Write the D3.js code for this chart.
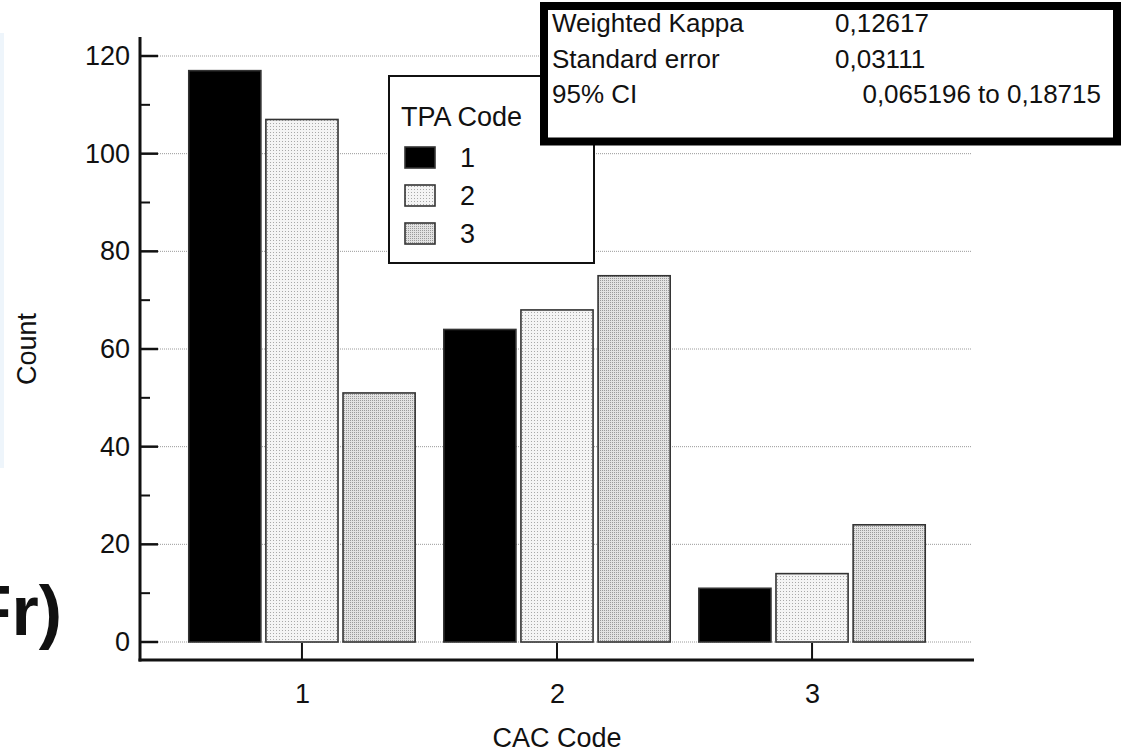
<!DOCTYPE html>
<html>
<head>
<meta charset="utf-8">
<script src="https://cdn.jsdelivr.net/npm/d3@7"></script>
<style>
html,body{margin:0;padding:0;background:#fff;}
svg{display:block;font-family:"Liberation Sans",Arial,sans-serif;}
</style>
</head>
<body>
<svg id="chart" width="1122" height="752"></svg>
<script>
// ---- data ----
const categories = [1, 2, 3];              // CAC Code
const seriesNames = ["1", "2", "3"];       // TPA Code
const tpa1 = [117, 64, 11];
const tpa2 = [107, 68, 14];
const tpa3 = [51, 75, 24];
const yTicks = [0, 20, 40, 60, 80, 100, 120];
const yMinorTicks = [10, 30, 50, 70, 90, 110];
const statLabels = ["Weighted Kappa", "Standard error", "95% CI"];
const statValues = ["0,12617", "0,03111", "0,065196 to 0,18715"];

const series = [tpa1, tpa2, tpa3];

const svg = d3.select("#chart");

// patterns
const defs = svg.append("defs");
const p2 = defs.append("pattern").attr("id","pat2").attr("patternUnits","userSpaceOnUse")
  .attr("width",3).attr("height",3);
p2.append("rect").attr("width",3).attr("height",3).attr("fill","#f4f4f4");
p2.append("rect").attr("x",0).attr("y",0).attr("width",1).attr("height",1).attr("fill","#a8a8a8");
const p3 = defs.append("pattern").attr("id","pat3").attr("patternUnits","userSpaceOnUse")
  .attr("width",2).attr("height",2);
p3.append("rect").attr("width",2).attr("height",2).attr("fill","#e2e2e2");
p3.append("rect").attr("x",0).attr("y",0).attr("width",1).attr("height",1).attr("fill","#9a9a9a");
const fills = ["#000", "url(#pat2)", "url(#pat3)"];

// faint left strip (background residue)
svg.append("rect").attr("x",0).attr("y",33).attr("width",4).attr("height",435).attr("fill","#eef5fb");

// partial bold text at left
svg.append("text").attr("x",62).attr("y",635).attr("text-anchor","end")
  .attr("font-size",70).attr("font-weight","bold").attr("fill","#111").text("Fr)");

// scales
const axisLeftX = 140, axisBottomY = 660;
const x = d3.scalePoint().domain(categories).range([140, 974]).padding(0.635);
const inner = d3.scaleBand().domain(d3.range(series.length)).range([-115.5, 115.5]).paddingInner(0.065).paddingOuter(0.03);
const y = d3.scaleLinear().domain([0, 120]).range([642, 56]);

// gridlines
svg.append("g").selectAll("line").data(yTicks).join("line")
  .attr("x1", 158).attr("x2", 972)
  .attr("y1", d => y(d)).attr("y2", d => y(d))
  .attr("stroke", "#9a9a9a").attr("stroke-width", 1).attr("stroke-dasharray", "1,1");

// bars
const barG = svg.append("g");
series.forEach((vals, si) => {
  barG.append("g").selectAll("rect").data(vals).join("rect")
    .attr("x", (d, i) => x(categories[i]) + inner(si))
    .attr("width", inner.bandwidth())
    .attr("y", d => y(d))
    .attr("height", d => y(0) - y(d))
    .attr("fill", fills[si])
    .attr("stroke", "#333").attr("stroke-width", 1.6);
});

// y axis
const yAxis = d3.axisLeft(y).tickValues(yTicks).tickSize(0).tickPadding(10);
const yg = svg.append("g").attr("transform", `translate(${axisLeftX},0)`).call(yAxis);
yg.select(".domain").remove();
yg.selectAll("text").attr("font-size", 27).attr("fill", "#111").attr("font-family", "Liberation Sans, Arial, sans-serif");
svg.append("line").attr("x1", axisLeftX).attr("x2", axisLeftX).attr("y1", 37).attr("y2", axisBottomY + 1.5)
  .attr("stroke", "#111").attr("stroke-width", 3);
svg.append("g").selectAll("line").data(yTicks).join("line")
  .attr("x1", axisLeftX).attr("x2", 158).attr("y1", d => y(d)).attr("y2", d => y(d))
  .attr("stroke", "#111").attr("stroke-width", 2.5);
svg.append("g").selectAll("line").data(yMinorTicks).join("line")
  .attr("x1", axisLeftX).attr("x2", 150).attr("y1", d => y(d)).attr("y2", d => y(d))
  .attr("stroke", "#111").attr("stroke-width", 2);

// x axis
const xAxis = d3.axisBottom(x).tickSize(0).tickPadding(24);
const xg = svg.append("g").attr("transform", `translate(0,${axisBottomY})`).call(xAxis);
xg.select(".domain").remove();
xg.selectAll("text").attr("font-size", 27).attr("fill", "#111").attr("font-family", "Liberation Sans, Arial, sans-serif");
svg.append("line").attr("x1", axisLeftX - 1.5).attr("x2", 974).attr("y1", axisBottomY).attr("y2", axisBottomY)
  .attr("stroke", "#111").attr("stroke-width", 3);
svg.append("g").selectAll("line").data(categories).join("line")
  .attr("x1", d => x(d)).attr("x2", d => x(d)).attr("y1", axisBottomY).attr("y2", 643)
  .attr("stroke", "#111").attr("stroke-width", 2);

// axis titles
svg.append("text").attr("x", 557).attr("y", 747).attr("text-anchor", "middle")
  .attr("font-size", 27).attr("fill", "#111").text("CAC Code");
svg.append("text").attr("transform", "translate(36,349) rotate(-90)").attr("text-anchor", "middle")
  .attr("font-size", 27).attr("fill", "#111").text("Count");

// legend
const lg = svg.append("g");
lg.append("rect").attr("x", 389).attr("y", 76).attr("width", 205).attr("height", 187)
  .attr("fill", "#fff").attr("stroke", "#111").attr("stroke-width", 2);
lg.append("text").attr("x", 401).attr("y", 126).attr("font-size", 27).attr("fill", "#111").text("TPA Code");
seriesNames.forEach((n, i) => {
  const cy = 157 + i * 38;
  lg.append("rect").attr("x", 405).attr("y", cy - 10).attr("width", 30).attr("height", 21)
    .attr("fill", fills[i]).attr("stroke", "#333").attr("stroke-width", 1.6);
  lg.append("text").attr("x", 460).attr("y", cy + 10).attr("font-size", 27).attr("fill", "#111").text(n);
});

// stats box
const sb = svg.append("g");
sb.append("rect").attr("x", 544).attr("y", 6).attr("width", 573).attr("height", 135.5)
  .attr("fill", "#fff").attr("stroke", "#000").attr("stroke-width", 8);
statLabels.forEach((t, i) => {
  const by = 32 + i * 35.5;
  sb.append("text").attr("x", 552).attr("y", by).attr("font-size", 26).attr("fill", "#111").text(t);
  if (i < 2) {
    sb.append("text").attr("x", 835).attr("y", by).attr("font-size", 26).attr("fill", "#111").text(statValues[i]);
  } else {
    sb.append("text").attr("x", 1101).attr("y", by).attr("text-anchor", "end").attr("font-size", 26).attr("fill", "#111").text(statValues[i]);
  }
});
</script>
</body>
</html>
